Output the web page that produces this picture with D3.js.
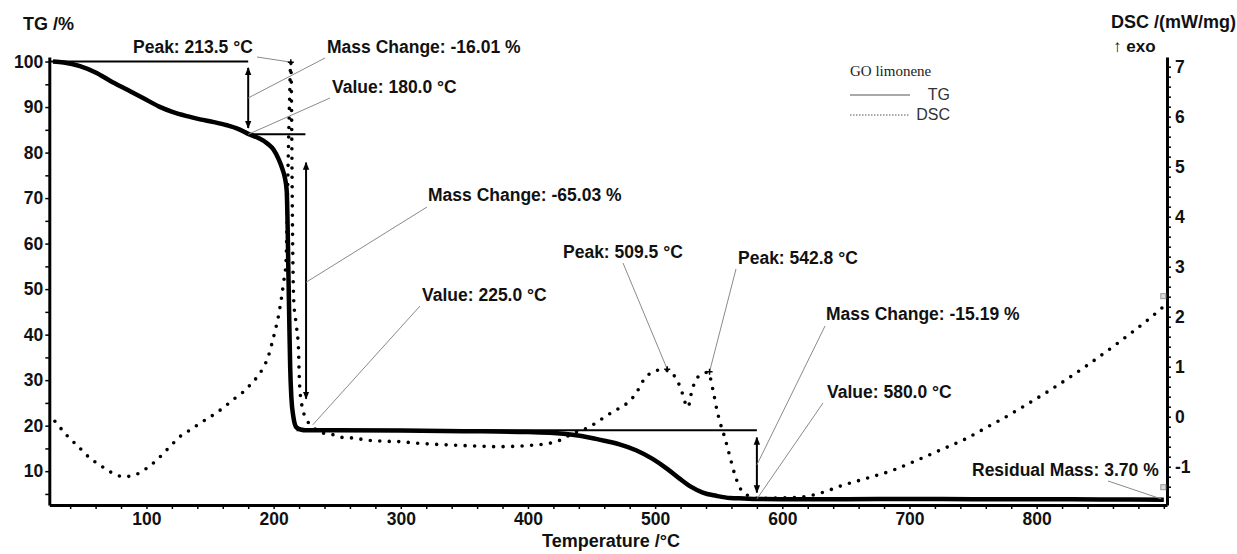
<!DOCTYPE html>
<html lang="en">
<head>
<meta charset="UTF-8">
<title>GO limonene TG / DSC</title>
<script src="https://cdn.jsdelivr.net/npm/d3@7"></script>
<style>
	body { margin: 0; background: #fff; }
	text { font-family: Arial, "Liberation Sans", sans-serif; }
</style>
</head>
<body>
<script>
// TG curve: temperature (°C) -> mass (%)
var tgTemp = [26.5, 35, 47.7, 60, 71.3, 85, 97.3, 110, 120.9, 132, 142.1, 153, 163.3, 172, 180, 188, 195, 200, 204, 207, 209, 210.3, 211, 211.6, 212.3, 213, 214, 215.5, 218, 222, 225, 250, 300, 350, 400, 420, 435, 450, 460, 472, 485, 498, 510, 519.5, 528, 537.5, 548, 559, 570, 580, 600, 650, 700, 750, 800, 850, 900];
var tgMass = [100, 99.8, 99.0, 97.6, 95.8, 93.8, 92.0, 90.1, 88.9, 88.0, 87.3, 86.7, 86.0, 85.2, 84.1, 83.2, 82.0, 80.6, 78.5, 76.3, 74.3, 71.5, 64, 54, 43, 33, 26, 22, 19.6, 19.1, 19.0, 19.0, 18.95, 18.8, 18.6, 18.4, 18.0, 17.3, 16.7, 15.9, 14.6, 12.7, 10.4, 8.3, 6.6, 5.3, 4.6, 4.1, 4.0, 3.9, 3.85, 3.85, 3.9, 3.85, 3.85, 3.8, 3.75];

// DSC curve: temperature (°C) -> mW/mg
var dscTemp = [28, 37.3, 47.7, 55.6, 63.5, 71.3, 82.3, 92.3, 100.2, 108, 114.6, 121.1, 127.7, 134.2, 142.1, 148.6, 160, 169.6, 175.9, 181.4, 186.9, 191.6, 195.6, 198.5, 201, 203.7, 206.3, 208.1, 209.7, 210.6, 211.5, 212.5, 213.5, 214.1, 214.5, 215, 215.8, 218, 219.6, 220, 220.7, 223.1, 226.2, 231, 236.5, 246.7, 252.2, 264, 273.4, 286, 299.4, 312.7, 325.3, 352, 378, 391.4, 404, 417.3, 425.2, 435.4, 446.4, 456.6, 466.9, 477.9, 484, 492, 497.5, 503, 509.3, 514, 518, 521.1, 523.5, 525.8, 529, 532.9, 535.3, 538.5, 541.6, 545.5, 548.6, 551, 554.9, 558.9, 562.8, 569, 577, 580, 590, 602, 614, 629.6, 647.7, 666.6, 687, 705.9, 724, 745.2, 761, 771.2, 790, 810.5, 836.5, 863.2, 889.1, 899.3];
var dscVal = [-0.09, -0.37, -0.63, -0.83, -0.97, -1.10, -1.20, -1.15, -1.03, -0.87, -0.70, -0.53, -0.37, -0.27, -0.13, -0.03, 0.17, 0.37, 0.49, 0.63, 0.79, 0.97, 1.19, 1.45, 1.7, 2.0, 2.4, 2.73, 3.07, 4.0, 5.2, 6.3, 7.09, 6.2, 4.8, 3.4, 2.33, 1.8, 1.33, 0.93, 0.53, 0.13, -0.07, -0.21, -0.31, -0.36, -0.41, -0.43, -0.47, -0.49, -0.50, -0.53, -0.55, -0.58, -0.60, -0.59, -0.57, -0.53, -0.47, -0.33, -0.23, -0.07, 0.10, 0.27, 0.43, 0.77, 0.89, 0.93, 0.93, 0.85, 0.69, 0.49, 0.29, 0.19, 0.53, 0.77, 0.83, 0.87, 0.89, 0.53, 0.13, -0.11, -0.43, -0.81, -1.17, -1.51, -1.61, -1.63, -1.63, -1.62, -1.61, -1.53, -1.37, -1.23, -1.07, -0.87, -0.67, -0.43, -0.21, -0.07, 0.21, 0.53, 0.97, 1.46, 1.97, 2.19];

// tick labels
var xTicks = [100, 200, 300, 400, 500, 600, 700, 800];
var tgTicks = [10, 20, 30, 40, 50, 60, 70, 80, 90, 100];
var dscTicks = [-1, 0, 1, 2, 3, 4, 5, 6, 7];

var width = 1237;
var height = 554;
var svg = d3.select("body")
	.append("svg")
	.attr("width", width)
	.attr("height", height);

var x = d3.scaleLinear().domain([23.6, 902.5]).range([49.3, 1167]);
var yTG = d3.scaleLinear().domain([2.57, 101]).range([505, 57]);
var yDSC = d3.scaleLinear().domain([-1.766, 7.193]).range([505, 57]);

// arrowhead
svg.append("defs").append("marker")
	.attr("id", "head")
	.attr("viewBox", "0 0 10 10")
	.attr("refX", 9).attr("refY", 5)
	.attr("markerUnits", "userSpaceOnUse")
	.attr("markerWidth", 8).attr("markerHeight", 8)
	.attr("orient", "auto-start-reverse")
	.append("path")
	.attr("d", "M0,1 L10,5 L0,9 Z")
	.attr("fill", "#000");

// axes
function styleAxis(g) {
	g.select(".domain").attr("stroke", "#000").attr("stroke-width", 3);
	g.selectAll(".tick line").attr("stroke", "#000").attr("stroke-width", 1.5);
	g.selectAll("text")
		.attr("fill", "#111")
		.style("font-family", "Arial, 'Liberation Sans', sans-serif")
		.style("font-size", "17.5px")
		.style("font-weight", "bold");
}

var xAxis = d3.axisBottom(x)
	.tickValues(d3.range(40, 901, 20))
	.tickSize(4).tickSizeOuter(0).tickPadding(4)
	.tickFormat(function(d) { return xTicks.indexOf(d) >= 0 ? d : ""; });
svg.append("g").attr("transform", "translate(0,505)").call(xAxis).call(styleAxis);

var leftAxis = d3.axisLeft(yTG)
	.tickValues(d3.range(5, 101, 5))
	.tickSize(4).tickSizeOuter(0).tickPadding(2)
	.tickFormat(function(d) { return tgTicks.indexOf(d) >= 0 ? d : ""; });
svg.append("g").attr("transform", "translate(49.3,0)").call(leftAxis).call(styleAxis);

var rightAxis = d3.axisRight(yDSC)
	.tickValues(d3.range(-16, 72, 2).map(function(v) { return v / 10; }))
	.tickSize(4).tickSizeOuter(0).tickPadding(4)
	.tickFormat(function(d) { return dscTicks.indexOf(d) >= 0 ? d : ""; });
svg.append("g").attr("transform", "translate(1167,0)").call(rightAxis).call(styleAxis);

// axis titles
svg.append("text").attr("x", 23).attr("y", 30)
	.style("font-size", "18px").style("font-weight", "bold").attr("fill", "#111")
	.text("TG /%");
svg.append("text").attr("x", 1236).attr("y", 28).attr("text-anchor", "end")
	.style("font-size", "18px").style("font-weight", "bold").attr("fill", "#111")
	.text("DSC /(mW/mg)");
svg.append("text").attr("x", 1113).attr("y", 52)
	.style("font-size", "17px").style("font-weight", "bold").attr("fill", "#111")
	.text("↑ exo");
svg.append("text").attr("x", 611).attr("y", 547).attr("text-anchor", "middle")
	.style("font-size", "18px").style("font-weight", "bold").attr("fill", "#111")
	.text("Temperature /°C");

// curves
var tgData = tgTemp.map(function(t, i) { return [t, tgMass[i]]; });
var dscData = dscTemp.map(function(t, i) { return [t, dscVal[i]]; });

var tgLine = d3.line()
	.x(function(d) { return x(d[0]); })
	.y(function(d) { return yTG(d[1]); })
	.curve(d3.curveMonotoneX);
var dscLine = d3.line()
	.x(function(d) { return x(d[0]); })
	.y(function(d) { return yDSC(d[1]); })
	.curve(d3.curveMonotoneX);

svg.append("path").datum(dscData)
	.attr("d", dscLine)
	.attr("fill", "none")
	.attr("stroke", "#000")
	.attr("stroke-width", 3.6)
	.attr("stroke-linecap", "round")
	.attr("stroke-dasharray", "0 9.5");

svg.append("path").datum(tgData)
	.attr("d", tgLine)
	.attr("fill", "none")
	.attr("stroke", "#000")
	.attr("stroke-width", 4.5)
	.attr("stroke-linejoin", "round");

// step lines of the mass change evaluation
var steps = [
	{ t0: 23.6, t1: 180, m: 100 },
	{ t0: 180, t1: 225, m: 84.0 },
	{ t0: 218, t1: 580, m: 19.0 }
];
svg.selectAll(".step").data(steps).enter().append("line")
	.attr("x1", function(d) { return x(d.t0); })
	.attr("x2", function(d) { return x(d.t1); })
	.attr("y1", function(d) { return yTG(d.m); })
	.attr("y2", function(d) { return yTG(d.m); })
	.attr("stroke", "#000").attr("stroke-width", 2);

// double arrows
var arrows = [
	{ t: 180, m0: 98.6, m1: 85.4 },
	{ t: 225.5, m0: 77.8, m1: 25.9 },
	{ t: 580, m0: 17.4, m1: 5.3 }
];
svg.selectAll(".arr").data(arrows).enter().append("line")
	.attr("x1", function(d) { return x(d.t); })
	.attr("x2", function(d) { return x(d.t); })
	.attr("y1", function(d) { return yTG(d.m0); })
	.attr("y2", function(d) { return yTG(d.m1); })
	.attr("stroke", "#000").attr("stroke-width", 2)
	.attr("marker-start", "url(#head)")
	.attr("marker-end", "url(#head)");

// labels with grey leader lines (text position in px, target in data units)
var notes = [
	{ text: "Peak: 213.5 °C", tx: 133, ty: 53, lx: 257, ly: 57, px: x(213.5), py: yDSC(7.09) },
	{ text: "Mass Change: -16.01 %", tx: 327, ty: 53, lx: 325, ly: 58, px: x(180), py: yTG(92) },
	{ text: "Value: 180.0 °C", tx: 332, ty: 93, lx: 330, ly: 98, px: x(180), py: yTG(84.0) },
	{ text: "Mass Change: -65.03 %", tx: 428, ty: 201, lx: 427, ly: 207, px: x(225.5), py: yTG(51.5) },
	{ text: "Value: 225.0 °C", tx: 422, ty: 301, lx: 420, ly: 306, px: x(230.8), py: yTG(20.2) },
	{ text: "Peak: 509.5 °C", tx: 563, ty: 258, lx: 623, ly: 263, px: x(509.5), py: yDSC(0.95) },
	{ text: "Peak: 542.8 °C", tx: 738, ty: 264, lx: 736, ly: 269, px: x(542.8), py: yDSC(0.9) },
	{ text: "Mass Change: -15.19 %", tx: 826, ty: 320, lx: 825, ly: 326, px: x(580), py: yTG(11.4) },
	{ text: "Value: 580.0 °C", tx: 827, ty: 398, lx: 823, ly: 403, px: x(580), py: yTG(3.9) },
	{ text: "Residual Mass: 3.70 %", tx: 972, ty: 476, lx: 1108, ly: 481, px: x(898), py: yTG(3.9) }
];
svg.selectAll(".lead").data(notes).enter().append("line")
	.attr("x1", function(d) { return d.lx; })
	.attr("y1", function(d) { return d.ly; })
	.attr("x2", function(d) { return d.px; })
	.attr("y2", function(d) { return d.py; })
	.attr("stroke", "#8a8a8a").attr("stroke-width", 1);
svg.selectAll(".note").data(notes).enter().append("text")
	.attr("x", function(d) { return d.tx; })
	.attr("y", function(d) { return d.ty; })
	.style("font-size", "17.5px").style("font-weight", "bold")
	.attr("fill", "#111")
	.text(function(d) { return d.text; });

// peak cross marks
[[213.5, 7.09], [509.5, 0.95], [542.8, 0.9]].forEach(function(p) {
	var cx = x(p[0]), cy = yDSC(p[1]);
	svg.append("path").attr("d", "M" + (cx - 3) + "," + cy + "H" + (cx + 3) + "M" + cx + "," + (cy - 3) + "V" + (cy + 3))
		.attr("stroke", "#000").attr("stroke-width", 1.5);
});

// small grey end markers
[yDSC(2.4), yDSC(-1.42)].forEach(function(yy) {
	svg.append("rect").attr("x", x(900) - 3).attr("y", yy - 3)
		.attr("width", 5).attr("height", 5)
		.attr("fill", "#ddd").attr("stroke", "#999").attr("stroke-width", 1);
});

// legend
svg.append("text").attr("x", 850).attr("y", 76)
	.style("font-family", "'Liberation Serif', 'Times New Roman', serif")
	.style("font-size", "15px").attr("fill", "#222")
	.text("GO limonene");
svg.append("line").attr("x1", 850).attr("x2", 910).attr("y1", 95).attr("y2", 95)
	.attr("stroke", "#555").attr("stroke-width", 1);
svg.append("line").attr("x1", 850).attr("x2", 909).attr("y1", 115).attr("y2", 115)
	.attr("stroke", "#555").attr("stroke-width", 1).attr("stroke-dasharray", "1.5 1.5");
svg.append("text").attr("x", 950).attr("y", 100).attr("text-anchor", "end")
	.style("font-size", "16px").attr("fill", "#333").text("TG");
svg.append("text").attr("x", 950).attr("y", 120).attr("text-anchor", "end")
	.style("font-size", "16px").attr("fill", "#333").text("DSC");
</script>
</body>
</html>
